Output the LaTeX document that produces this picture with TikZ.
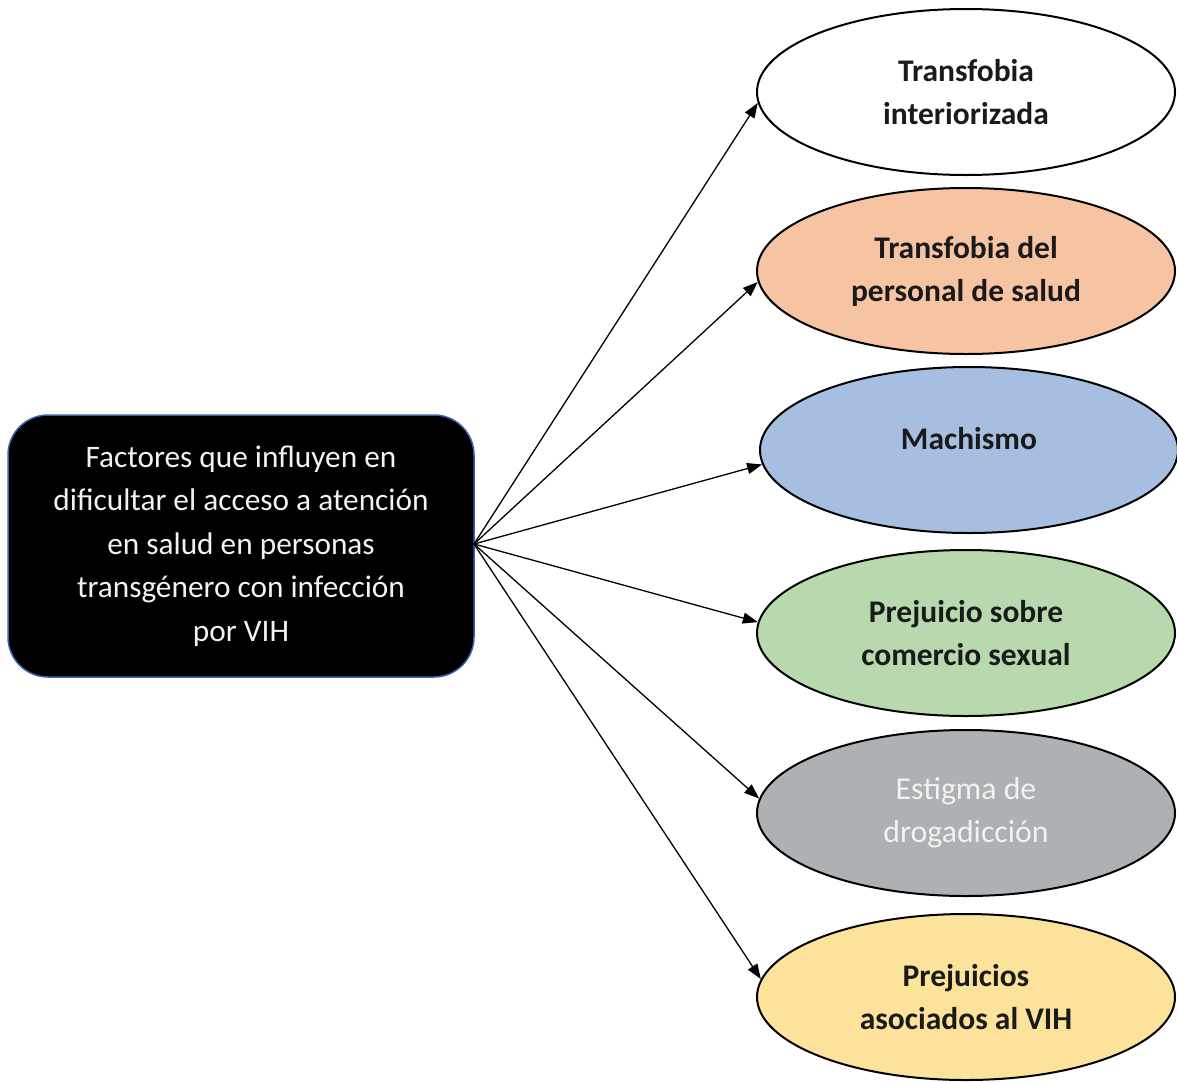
\documentclass[tikz,border=0pt]{standalone}
\usepackage{fontspec}
\setmainfont{Carlito}
\usetikzlibrary{shapes.geometric,arrows.meta}
\definecolor{peach}{HTML}{F6C4A2}
\definecolor{lblue}{HTML}{A6BEE0}
\definecolor{lgreen}{HTML}{B8D9AD}
\definecolor{lgray}{HTML}{AEB1B3}
\definecolor{lyellow}{HTML}{FCE29B}
\definecolor{boxborder}{HTML}{3A64A8}
\definecolor{txtdark}{HTML}{1A1A1A}
\definecolor{txtlight}{HTML}{F2F2F2}
\begin{document}
\begin{tikzpicture}[x=1pt,y=-1pt,
  oval/.style={ellipse, draw=black, line width=2pt, minimum width=418pt, minimum height=166pt,
    inner sep=0pt, align=center, font=\fontsize{31.5}{43}\selectfont\bfseries, text=txtdark},
  mainbox/.style={rectangle, rounded corners=40pt, fill=black, draw=boxborder, line width=1.5pt,
    minimum width=466pt, minimum height=262pt, align=center, text=txtlight,
    font=\fontsize{31.3}{43.5}\selectfont},
  conn/.style={line width=1.3pt, -{Triangle[length=15pt,width=11pt]}}]
\useasboundingbox (0,0) rectangle (1177,1082);
\node[mainbox] (box) at (241,546) {Factores que influyen en\\dificultar el acceso a atención\\en salud en personas\\transgénero con infección\\por VIH};
\node[oval, fill=white] (e1) at (966,92) {Transfobia\\interiorizada};
\node[oval, fill=peach] (e2) at (966,271) {Transfobia del\\personal de salud};
\node[oval, fill=lblue] (e3) at (969,450) {Machismo\\[-19pt]\mbox{}};
\node[oval, fill=lgreen] (e4) at (966,633) {Prejuicio sobre\\comercio sexual};
\node[oval, fill=lgray, font=\fontsize{31.8}{43}\selectfont, text=txtlight] (e5) at (966,813) {Estigma de\\drogadicción};
\node[oval, fill=lyellow] (e6) at (966,997) {Prejuicios\\asociados al VIH};
\coordinate (hub) at (474,544);
\draw[conn] (hub) -- (e1.183);
\draw[conn] (hub) -- (e2.183);
\draw[conn] (hub) -- (e3.184);
\draw[conn] (hub) -- (e4.177);
\draw[conn] (hub) -- (e5.176);
\draw[conn] (hub) -- (e6.175);
\end{tikzpicture}
\end{document}
